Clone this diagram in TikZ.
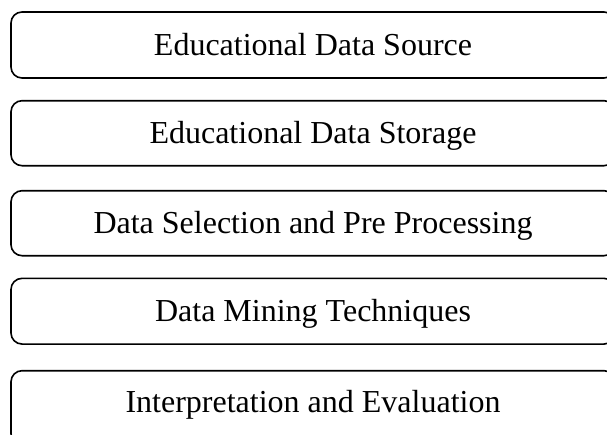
\documentclass[tikz,border=0pt]{standalone}
\usepackage{fontspec}
\setmainfont{Liberation Serif}
\begin{document}
\begin{tikzpicture}[x=1pt,y=-1pt,
  stagebox/.style={draw=black, line width=1.6pt, rounded corners=11pt,
    minimum width=604pt, inner sep=0pt},
  stagetext/.style={font=\fontsize{32}{38}\selectfont, text height=21.2pt, text depth=0pt, inner sep=0pt}]
\path[use as bounding box] (0,0) rectangle (607,434);
\clip (0,0) rectangle (607,434);
\node[stagebox, stagetext, minimum height=66pt] (s1) at (313,45) {Educational Data Source};
\node[stagebox, stagetext, minimum height=65pt] (s2) at (313,133.2) {Educational Data Storage};
\node[stagebox, stagetext, minimum height=65pt] (s3) at (313,223.2) {Data Selection and Pre Processing};
\node[stagebox, stagetext, minimum height=65.7pt] (s4) at (313,311.2) {Data Mining Techniques};
\node[stagebox, minimum height=74pt] (s5) at (313,407.7) {};
\node[stagetext] (s5text) at (313,401.7) {Interpretation and Evaluation};
\end{tikzpicture}
\end{document}
